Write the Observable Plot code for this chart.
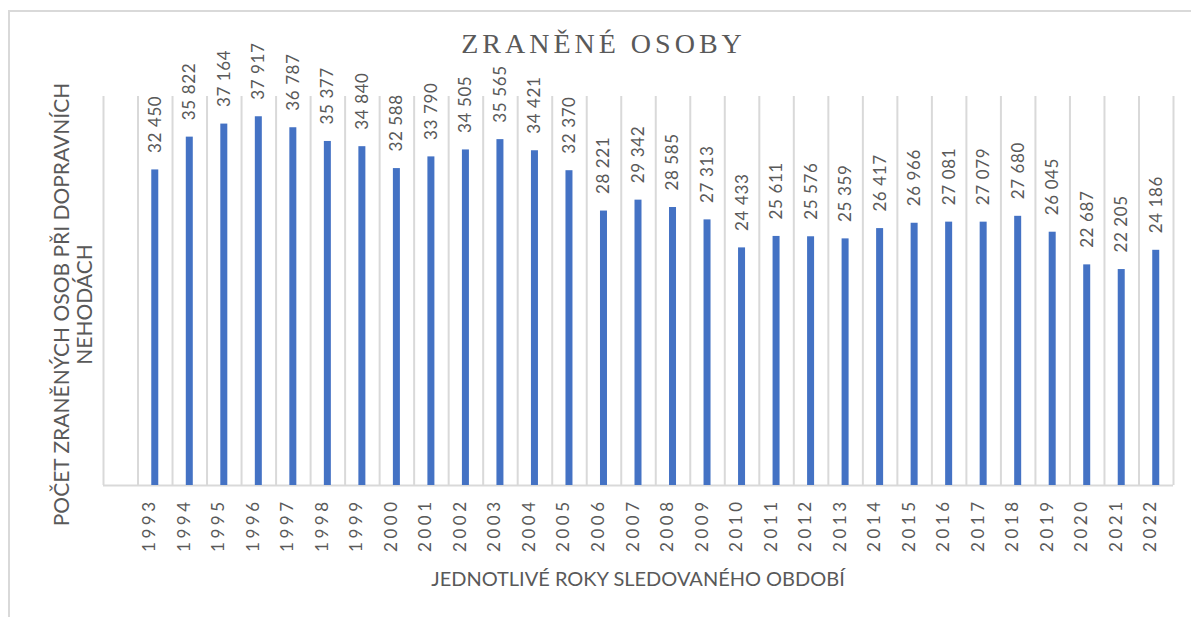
<!DOCTYPE html>
<html>
<head>
<meta charset="utf-8">
<script src="https://cdn.jsdelivr.net/npm/d3@7"></script>
<script src="https://cdn.jsdelivr.net/npm/@observablehq/plot@0.6"></script>
<style>
  html, body { margin: 0; padding: 0; background: #fff; overflow: hidden; }
  #page { position: relative; width: 1191px; height: 617px; overflow: hidden; }
  #frame { position: absolute; left: 8px; top: 10px; width: 1200px; height: 640px; border: 2px solid #d9d9d9; box-sizing: border-box; pointer-events: none; }
  #title { position: relative; height: 64px; box-sizing: border-box; padding-top: 29px; padding-left: 16px; text-align: center;
           font-family: "Liberation Serif", "DejaVu Serif", serif; font-size: 28px; line-height: 30px; letter-spacing: 4px; color: #595959; }
  #chart svg { display: block; overflow: visible; }
  #xlabel { height: 28px; margin-top: 0px; padding-left: 103px; padding-right: 18px; text-align: center;
            font-family: Lato, "Open Sans", sans-serif; font-size: 20px; line-height: 28px; color: #595959; }
</style>
</head>
<body>
<div id="page">
  <div id="frame"></div>
  <div id="title">ZRANĚNÉ OSOBY</div>
  <div id="chart"></div>
  <div id="xlabel">JEDNOTLIVÉ ROKY SLEDOVANÉHO OBDOBÍ</div>
</div>
<script>
// ---- data ----
const years = ["1993","1994","1995","1996","1997","1998","1999","2000","2001","2002",
               "2003","2004","2005","2006","2007","2008","2009","2010","2011","2012",
               "2013","2014","2015","2016","2017","2018","2019","2020","2021","2022"];
const injured = [32450,35822,37164,37917,36787,35377,34840,32588,33790,34505,
                 35565,34421,32370,28221,29342,28585,27313,24433,25611,25576,
                 25359,26417,26966,27081,27079,27680,26045,22687,22205,24186];
const yLabel = "POČET ZRANĚNÝCH OSOB PŘI DOPRAVNÍCH\nNEHODÁCH";

const data = years.map((y, i) => ({year: y, value: injured[i]}));
const xDomain = [""].concat(years);

const W = 1191, H = 500, ML = 103, MR = 18, MT = 32, MB = 79;
const bw = (W - ML - MR) / xDomain.length;
const barW = 7;
const fmt = d3.formatLocale({decimal: ",", thousands: "\u00a0", grouping: [3], currency: ["", ""]}).format(",d");
const grid = "#d9d9d9", txt = "#595959";

const chart = Plot.plot({
  width: W, height: H,
  marginLeft: ML, marginRight: MR, marginTop: MT, marginBottom: MB,
  style: {fontFamily: "Lato, 'Open Sans', sans-serif", color: txt, background: "transparent", overflow: "visible"},
  x: {type: "band", domain: xDomain, padding: 0, round: false, axis: null},
  y: {domain: [0, 40000], axis: null},
  marks: [
    Plot.ruleX(xDomain, {x: d => d, y1: 0, y2: 40000, dx: -bw / 2, stroke: grid, strokeWidth: 2}),
    Plot.ruleX(xDomain.slice(-1), {x: d => d, y1: 0, y2: 40000, dx: bw / 2, stroke: grid, strokeWidth: 2}),
    Plot.ruleY([0], {stroke: grid, strokeWidth: 2}),
    Plot.barY(data, {x: "year", y: "value", fill: "#4472C4",
                     insetLeft: (bw - barW) / 2, insetRight: (bw - barW) / 2}),
    Plot.text(data, {x: "year", y: "value", text: d => fmt(d.value), rotate: -90, textAnchor: "start",
                     dy: -17, fontSize: 17, fill: txt}),
    Plot.text(years, {x: d => d, frameAnchor: "bottom", text: d => d, rotate: -90, textAnchor: "end",
                      dy: 13, fontSize: 17, fill: txt}),
    Plot.text([yLabel], {frameAnchor: "left", text: d => d, rotate: -90, textAnchor: "middle",
                         dx: -30.5, dy: 13.5, fontSize: 21, lineHeight: 1.1, fill: txt})
  ]
});
// letter spacing for tick labels / value labels
chart.querySelectorAll("text").forEach(t => {
  const s = t.textContent;
  if (/^\d{4}$/.test(s)) t.setAttribute("letter-spacing", "3.5");
  else if (/^\d+\u00a0\d{3}$/.test(s)) t.setAttribute("letter-spacing", "0.6");
});
document.getElementById("chart").appendChild(chart);
</script>
</body>
</html>
